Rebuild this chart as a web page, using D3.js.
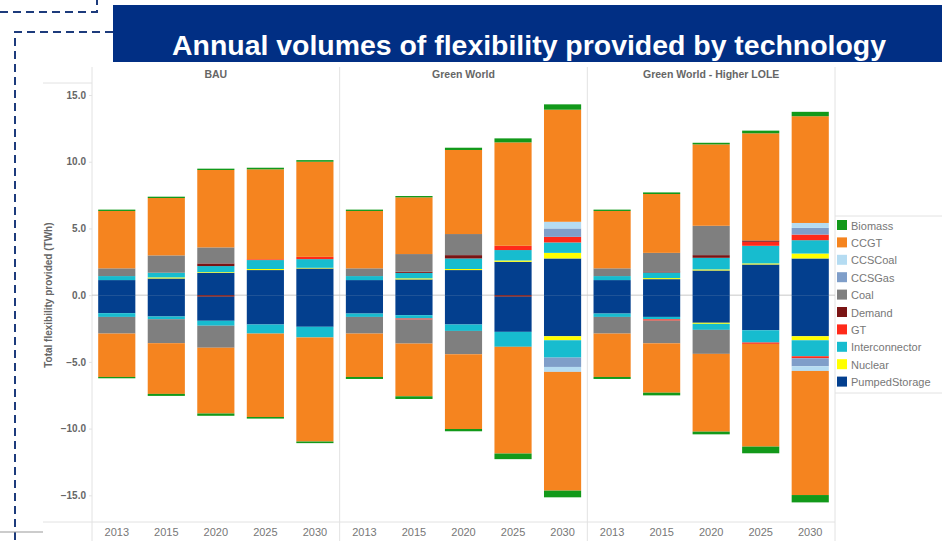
<!DOCTYPE html>
<html>
<head>
<meta charset="utf-8">
<script src="https://cdn.jsdelivr.net/npm/d3@7"></script>
<style>
  body { margin: 0; background: #fff; }
  svg { display: block; font-family: "Liberation Sans", Arial, sans-serif; }
</style>
</head>
<body>
<svg id="chart" width="942" height="541"></svg>
<script>
// scenarios / years / technologies
const scenarios = ["BAU", "Green World", "Green World - Higher LOLE"];
const years = ["2013", "2015", "2020", "2025", "2030"];
const techs = ["Biomass", "CCGT", "CCSCoal", "CCSGas", "Coal", "Demand", "GT", "Interconnector", "Nuclear", "PumpedStorage"];
const techColors = ["#12991a", "#f5841f", "#b5dcf2", "#7f9ec9", "#7f7f7f", "#7a1414", "#ff2a1a", "#17bccf", "#ffff00", "#033f8e"];
const yTicks = [15, 10, 5, 0, -5, -10, -15];

// upward flexibility per year (TWh), cols follow techs
const bauUp = [
  [0.10, 4.30, 0, 0, 0.58, 0, 0, 0.30, 0, 1.13],
  [0.10, 4.30, 0, 0, 1.30, 0, 0, 0.35, 0.08, 1.25],
  [0.10, 5.80, 0, 0, 1.20, 0.20, 0, 0.45, 0.05, 1.68],
  [0.12, 6.74, 0, 0, 0, 0, 0.06, 0.67, 0.08, 1.88],
  [0.12, 7.13, 0, 0, 0, 0, 0.17, 0.65, 0.05, 2.00]
];
const gwUp = [
  [0.10, 4.30, 0, 0, 0.58, 0, 0, 0.30, 0, 1.13],
  [0.10, 4.25, 0, 0, 1.33, 0.08, 0, 0.41, 0.08, 1.18],
  [0.17, 6.30, 0, 0, 1.58, 0.25, 0, 0.79, 0.08, 1.88],
  [0.30, 7.75, 0, 0, 0, 0, 0.32, 0.78, 0.10, 2.50],
  [0.40, 8.40, 0.50, 0.63, 0, 0, 0.42, 0.78, 0.42, 2.75]
];
const gwhUp = [
  [0.10, 4.30, 0, 0, 0.58, 0, 0, 0.30, 0, 1.13],
  [0.12, 4.41, 0, 0, 1.39, 0.08, 0, 0.42, 0.08, 1.20],
  [0.12, 6.10, 0, 0, 2.20, 0.20, 0, 0.87, 0.08, 1.85],
  [0.20, 8.03, 0, 0, 0, 0.10, 0.30, 1.32, 0.08, 2.30],
  [0.33, 8.00, 0.37, 0.50, 0, 0, 0.42, 1.00, 0.37, 2.75]
];

// downward flexibility per year (TWh, negative)
const bauDown = [
  [-0.10, -3.25, 0, 0, -1.25, 0, 0, -0.28, 0, -1.35],
  [-0.15, -3.80, 0, 0, -1.80, 0, 0, -0.20, 0, -1.60],
  [-0.17, -4.93, 0, 0, -1.65, -0.12, 0, -0.37, 0, -1.80],
  [-0.12, -6.25, 0, 0, 0, 0, 0, -0.68, 0, -2.20],
  [-0.12, -7.80, 0, 0, 0, 0, 0, -0.80, 0, -2.37]
];
const gwDown = [
  [-0.15, -3.25, 0, 0, -1.25, 0, 0, -0.25, 0, -1.38],
  [-0.20, -3.95, 0, 0, -1.80, 0, -0.08, -0.25, 0, -1.50],
  [-0.17, -5.60, 0, 0, -1.75, 0, 0, -0.48, 0, -2.20],
  [-0.42, -8.00, 0, 0, 0, -0.12, 0, -1.12, 0, -2.63],
  [-0.50, -8.90, -0.37, -0.70, 0, 0, 0, -1.30, -0.30, -3.08]
];
const gwhDown = [
  [-0.15, -3.25, 0, 0, -1.25, 0, 0, -0.25, 0, -1.38],
  [-0.20, -3.70, 0, 0, -1.70, 0, -0.10, -0.18, 0, -1.63],
  [-0.20, -5.83, 0, 0, -1.80, 0, 0, -0.45, -0.08, -2.07],
  [-0.50, -7.70, 0, 0, 0, 0, -0.10, -0.92, 0, -2.63],
  [-0.55, -9.30, -0.35, -0.60, 0, 0, -0.15, -1.20, -0.30, -3.08]
];

const upData = [bauUp, gwUp, gwhUp];
const downData = [bauDown, gwDown, gwhDown];

// stacking order out from zero
const upOrder = ["PumpedStorage", "Nuclear", "Interconnector", "GT", "Demand", "Coal", "CCSGas", "CCSCoal", "CCGT", "Biomass"];
const downOrder = ["Demand", "PumpedStorage", "Nuclear", "Interconnector", "GT", "Coal", "CCSGas", "CCSCoal", "CCGT", "Biomass"];

const svg = d3.select("#chart");
const W = 942, H = 541;
const plotL = 92, plotR = 835, plotT = 83, plotB = 522;
const grey = "#e2e2e2";
const txt = "#666";

const color = d3.scaleOrdinal().domain(techs).range(techColors);
const y = d3.scaleLinear().domain([-17, 15.9]).range([plotB, plotT]);
const panel = d3.scaleBand().domain(scenarios).range([plotL, plotR]);

// frame lines
const frame = svg.append("g").attr("stroke", grey).attr("fill", "none");
[plotL, panel("Green World"), panel("Green World - Higher LOLE"), plotR].forEach(x => {
  frame.append("line").attr("x1", x).attr("x2", x).attr("y1", 67).attr("y2", H);
});
frame.append("line").attr("x1", 43).attr("x2", plotL).attr("y1", plotT).attr("y2", plotT);
frame.append("line").attr("x1", 43).attr("x2", plotR).attr("y1", plotB).attr("y2", plotB);
frame.append("line").attr("x1", plotR).attr("x2", W).attr("y1", 216).attr("y2", 216);
frame.append("line").attr("x1", plotR).attr("x2", W).attr("y1", 393).attr("y2", 393);

// zero line
svg.append("line")
  .attr("x1", plotL).attr("x2", plotR)
  .attr("y1", y(0)).attr("y2", y(0))
  .attr("stroke", "#c8c8c8");

// y axis
const yAxis = svg.append("g")
  .attr("transform", `translate(${plotL},0)`)
  .call(d3.axisLeft(y).tickValues(yTicks).tickFormat(d3.format(".1f")).tickSize(3).tickPadding(3));
yAxis.select(".domain").remove();
yAxis.selectAll("line").attr("stroke", grey);
yAxis.selectAll("text")
  .attr("fill", txt).attr("font-size", 10).attr("font-weight", "bold")
  .attr("font-family", "Liberation Sans, Arial, sans-serif");

svg.append("text")
  .attr("transform", `translate(52,${y(0)}) rotate(-90)`)
  .attr("text-anchor", "middle")
  .attr("fill", txt).attr("font-size", 10).attr("font-weight", "bold")
  .text("Total flexibility provided (TWh)");

// panels
scenarios.forEach((sc, si) => {
  const x0 = panel(sc);
  const x = d3.scaleBand().domain(years)
    .range([x0, x0 + panel.bandwidth()])
    .paddingInner(0.25).paddingOuter(0.125);

  const g = svg.append("g");

  g.append("text")
    .attr("x", x0 + panel.bandwidth() / 2).attr("y", 78)
    .attr("text-anchor", "middle")
    .attr("fill", txt).attr("font-size", 10.5).attr("font-weight", "bold")
    .text(sc);

  const rows = (tbl) => tbl.map((r, i) => {
    const o = { year: years[i] };
    techs.forEach((t, j) => { o[t] = r[j]; });
    return o;
  });

  const upStack = d3.stack().keys(upOrder)(rows(upData[si]));
  const downStack = d3.stack().keys(downOrder).offset(d3.stackOffsetDiverging)(rows(downData[si]));

  [upStack, downStack].forEach(stack => {
    g.selectAll(null)
      .data(stack)
      .join("g")
      .attr("fill", d => color(d.key))
      .selectAll("rect")
      .data(d => d.filter(p => p[1] !== p[0]))
      .join("rect")
      .attr("x", d => x(d.data.year))
      .attr("width", x.bandwidth())
      .attr("y", d => y(Math.max(d[0], d[1])))
      .attr("height", d => Math.abs(y(d[0]) - y(d[1])));
  });

  const xAxis = g.append("g")
    .attr("transform", `translate(0,${plotB})`)
    .call(d3.axisBottom(x).tickSize(0).tickPadding(6));
  xAxis.select(".domain").remove();
  xAxis.selectAll("text")
    .attr("fill", "#777").attr("font-size", 11)
    .attr("font-family", "Liberation Sans, Arial, sans-serif");
});

// legend
const legend = svg.append("g").attr("transform", "translate(837,226)");
const item = legend.selectAll("g")
  .data(techs)
  .join("g")
  .attr("transform", (d, i) => `translate(0,${i * 17.4})`);
item.append("rect")
  .attr("x", 0).attr("y", -6).attr("width", 10).attr("height", 10)
  .attr("fill", d => color(d));
item.append("text")
  .attr("x", 14).attr("y", 3.5)
  .attr("fill", "#777").attr("font-size", 11)
  .text(d => d);

// slide decoration: banner and dashed frame
svg.append("rect")
  .attr("x", 113).attr("y", 5).attr("width", W - 113).attr("height", 57)
  .attr("fill", "#012f84");
svg.append("text")
  .attr("x", 529).attr("y", 55)
  .attr("text-anchor", "middle")
  .attr("fill", "#fff").attr("font-size", 27).attr("font-weight", "bold")
  .attr("font-family", "Liberation Sans, Arial, sans-serif")
  .attr("textLength", 714).attr("lengthAdjust", "spacingAndGlyphs")
  .text("Annual volumes of flexibility provided by technology");

const dash = svg.append("g")
  .attr("stroke", "#1d3b7c").attr("stroke-width", 2)
  .attr("stroke-dasharray", "8,5").attr("fill", "none");
dash.append("path").attr("d", "M0,12H97V0");
dash.append("path").attr("d", `M113,32H15V${H}`);

svg.append("line")
  .attr("x1", 0).attr("x2", 43).attr("y1", 532).attr("y2", 532)
  .attr("stroke", "#999");
</script>
</body>
</html>
